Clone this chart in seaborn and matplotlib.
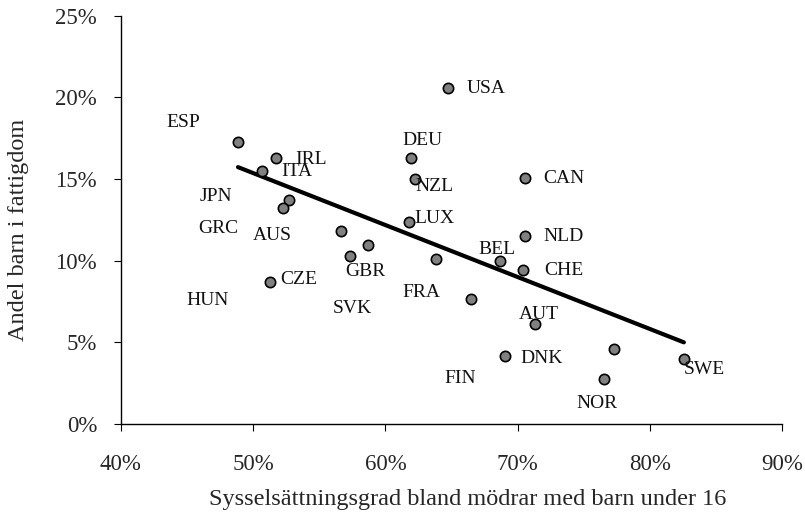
import numpy as np
import pandas as pd
import seaborn as sns
import matplotlib.pyplot as plt
import matplotlib.ticker as ticker

# sysselsättningsgrad mödrar (%) och andel barn i fattigdom (%)
countries = ["ESP", "IRL", "ITA", "JPN", "GRC", "AUS", "GBR", "SVK", "CZE",
             "USA", "DEU", "NZL", "CAN", "LUX", "NLD", "HUN", "BEL", "CHE",
             "FRA", "AUT", "DNK", "FIN", "NOR", "SWE"]
employment = [48.86, 51.72, 50.65, 52.72, 52.28, 56.68, 58.67, 57.29, 51.31,
              64.71, 61.90, 62.20, 70.52, 61.77, 70.52, 63.79, 68.69, 70.43,
              66.45, 71.32, 69.03, 77.28, 76.53, 82.55]
poverty = [17.30, 16.32, 15.52, 13.73, 13.25, 11.83, 10.95, 10.31, 8.72,
           20.61, 16.28, 15.01, 15.05, 12.40, 11.54, 10.09, 9.99, 9.42,
           7.64, 6.15, 4.17, 4.60, 2.74, 3.98]

# etiketternas placering (som i originalet, manuellt flyttade)
label_x = [44.69, 54.36, 53.28, 47.23, 47.38, 51.46, 58.51, 57.46, 53.45,
           67.59, 62.80, 63.68, 73.48, 63.68, 73.48, 46.55, 68.42, 73.48,
           62.68, 71.62, 71.82, 65.64, 76.02, 84.09]
label_y = [18.44, 16.18, 15.44, 13.93, 11.99, 11.52, 9.31, 7.05, 8.82,
           20.57, 17.34, 14.54, 15.01, 12.56, 11.46, 7.54, 10.66, 9.38,
           8.03, 6.68, 4.03, 2.76, 1.23, 3.35]

df = pd.DataFrame({"land": countries, "x": employment, "y": poverty})

sns.set_theme(style="ticks")
plt.rcParams['font.family'] = ['Liberation Serif', 'DejaVu Serif']

fig = plt.figure(figsize=(8.05, 5.12), dpi=100)
ax = fig.add_axes([0.150, 0.172, 0.822, 0.797])

sns.regplot(data=df, x="x", y="y", scatter=False, ci=None, ax=ax,
            line_kws={"color": "black", "lw": 3})
sns.scatterplot(data=df, x="x", y="y", ax=ax, color="#808080",
                edgecolor="black", linewidth=1.2, s=55, zorder=3)

for name, lx, ly in zip(countries, label_x, label_y):
    ax.text(lx, ly, name, ha="center", va="center", fontsize=14, color="#111111")

ax.set_xlim(40, 90)
ax.set_ylim(0, 25)
ax.xaxis.set_major_locator(ticker.MultipleLocator(10))
ax.yaxis.set_major_locator(ticker.MultipleLocator(5))
ax.xaxis.set_major_formatter(ticker.FuncFormatter(lambda v, p: f"{v:.0f}%"))
ax.yaxis.set_major_formatter(ticker.FuncFormatter(lambda v, p: f"{v:.0f}%"))
ax.tick_params(labelsize=16.5, length=5, width=0.8, color="black", pad=17)
ax.tick_params(axis="y", pad=12)
for s in ["left", "bottom"]:
    ax.spines[s].set_color("black")
    ax.spines[s].set_linewidth(1)
sns.despine(ax=ax)

ax.set_xlabel("Sysselsättningsgrad bland mödrar med barn under 16", fontsize=17.5, labelpad=10)
ax.set_ylabel("Andel barn i fattigdom", fontsize=17.5, labelpad=19)
ax.xaxis.label.set_x(0.524)
ax.yaxis.label.set_y(0.475)

fig.savefig("out.png", dpi=100)
